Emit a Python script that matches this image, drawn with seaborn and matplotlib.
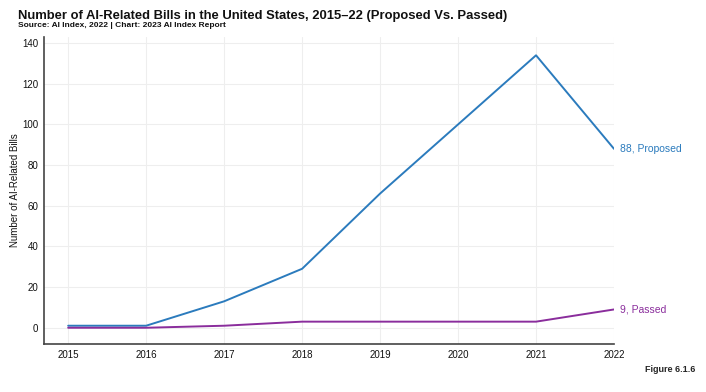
import matplotlib
matplotlib.use("Agg")
import matplotlib.pyplot as plt
import seaborn as sns
import pandas as pd

# data
years = [2015, 2016, 2017, 2018, 2019, 2020, 2021, 2022]
proposed = [1, 1, 13, 29, 66, 100, 134, 88]
passed = [0, 0, 1, 3, 3, 3, 3, 9]
series_names = ["Proposed", "Passed"]
colors = ["#2b7bbd", "#8a2d9c"]

df = pd.DataFrame({
    "year": years * 2,
    "bills": proposed + passed,
    "status": ["Proposed"] * len(years) + ["Passed"] * len(years),
})

sns.set_style("white")
plt.rcParams["font.family"] = ["Liberation Sans", "DejaVu Sans"]

fig = plt.figure(figsize=(7.06, 3.92), dpi=100)
ax = fig.add_axes([0.0623, 0.1224, 0.8074, 0.7832])

sns.lineplot(data=df, x="year", y="bills", hue="status",
             palette=dict(zip(series_names, colors)), linewidth=1.4,
             legend=False, ax=ax)

ax.set_xlim(2015 - 0.31, 2022)
ax.set_ylim(-8, 143)
ax.set_xticks(years)
ax.set_yticks(range(0, 141, 20))
ax.tick_params(axis="both", labelsize=7, length=0, pad=4, labelcolor="#111111")
ax.grid(True, color="#eeeeee", linewidth=0.8)
for s in ["top", "right"]:
    ax.spines[s].set_visible(False)
for s in ["left", "bottom"]:
    ax.spines[s].set_color("#444444")
    ax.spines[s].set_linewidth(1.2)
ax.set_xlabel("")
ax.set_ylabel("Number of AI-Related Bills", fontsize=7, color="#111111")
ax.yaxis.set_label_coords(-0.042, 0.5)

# end labels
ax.annotate(f"{proposed[-1]}, Proposed", (years[-1], proposed[-1]),
            xytext=(4, 0), textcoords="offset points", va="center",
            fontsize=7.5, color=colors[0], annotation_clip=False)
ax.annotate(f"{passed[-1]}, Passed", (years[-1], passed[-1]),
            xytext=(4, 0), textcoords="offset points", va="center",
            fontsize=7.5, color=colors[1], annotation_clip=False)

fig.text(0.025, 0.945, "Number of AI-Related Bills in the United States, 2015–22 (Proposed Vs. Passed)",
         fontsize=9.4, fontweight="bold", va="bottom", color="#111111")
fig.text(0.025, 0.925, "Source: AI Index, 2022 | Chart: 2023 AI Index Report",
         fontsize=6, fontweight="bold", va="bottom", color="#111111")
fig.text(0.985, 0.05, "Figure 6.1.6", fontsize=6.5, fontweight="bold", ha="right")

fig.savefig("out.png", dpi=100)
